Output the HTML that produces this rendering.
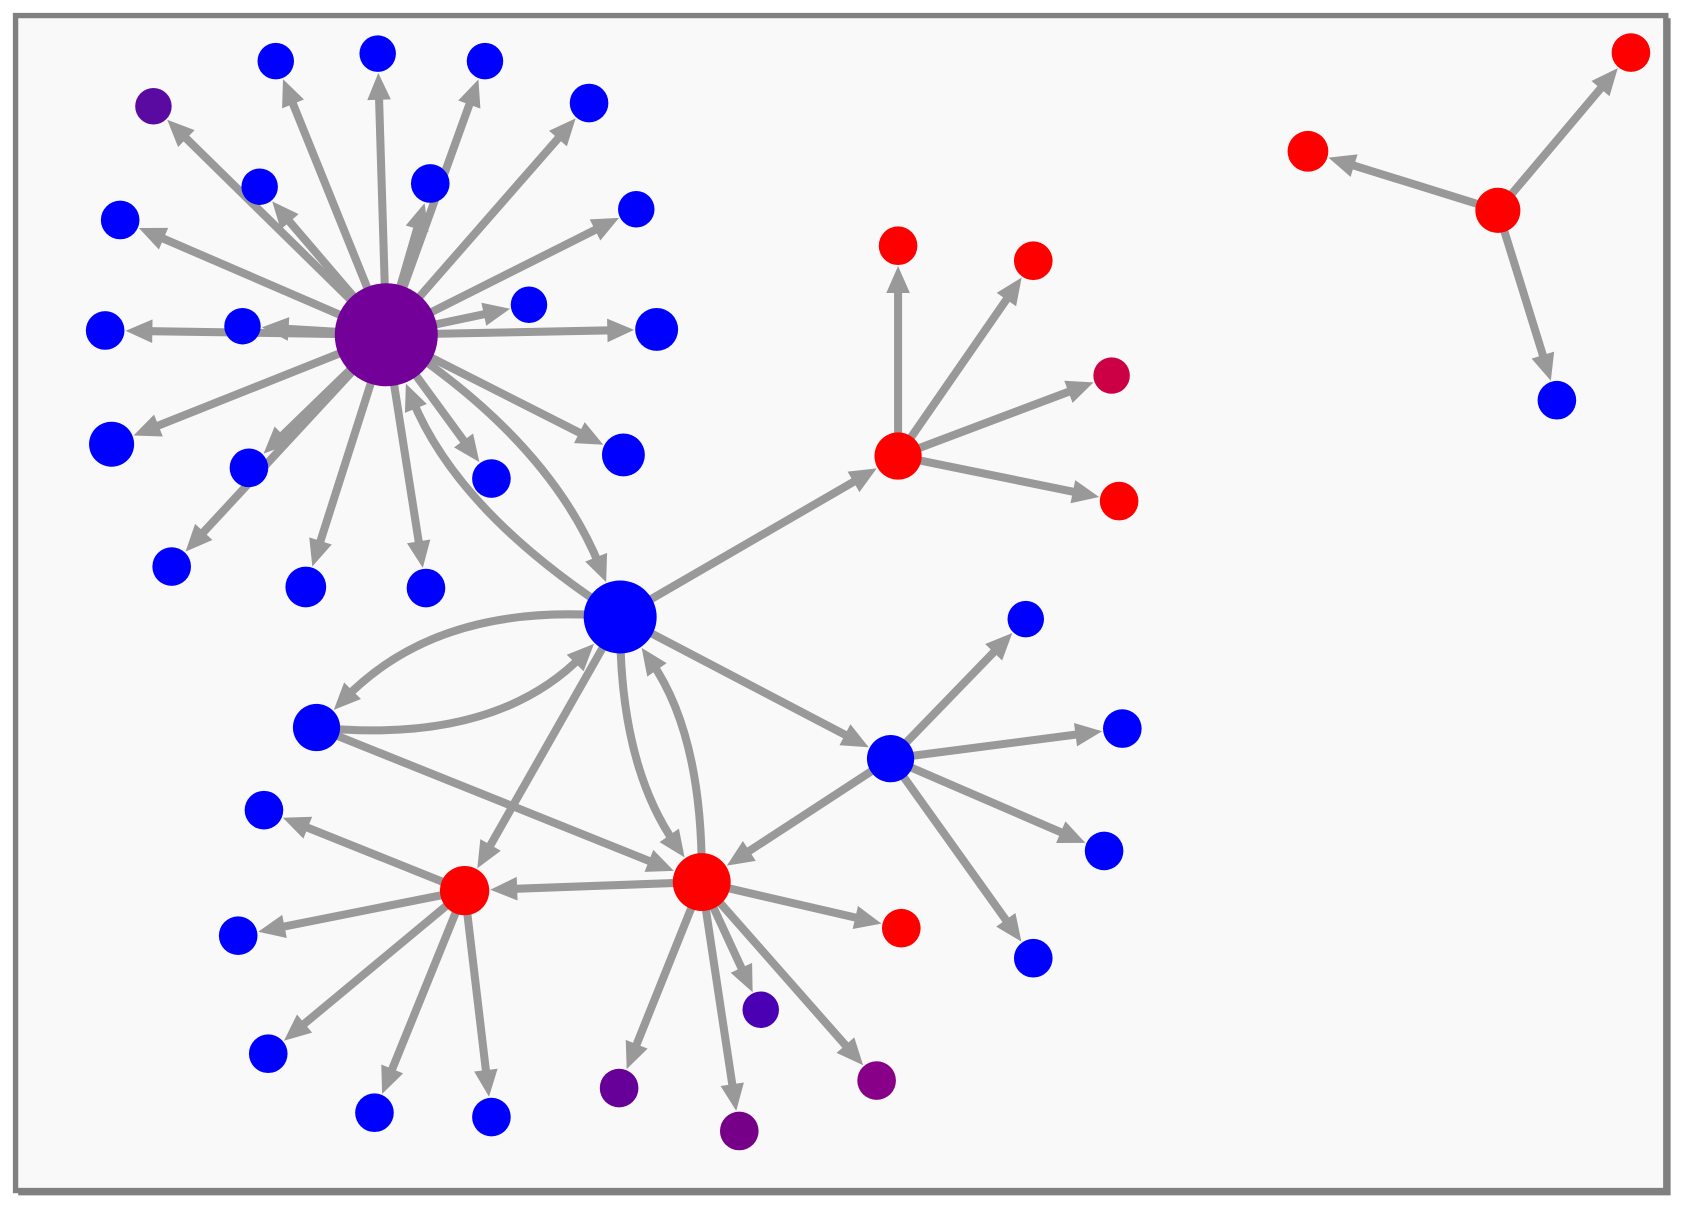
<!DOCTYPE html>
<html><head><meta charset="utf-8"><style>
html,body{margin:0;padding:0;background:#fff;width:1685px;height:1212px;overflow:hidden}
svg{display:block}
</style></head><body>
<svg id="s" width="1685" height="1212" viewBox="0 0 1570.4 1129.5" preserveAspectRatio="none" xmlns="http://www.w3.org/2000/svg">
<rect x="17" y="17" width="1540" height="1097" fill="#808080"/>
<rect x="14.5" y="14.5" width="1538" height="1095" fill="#f9f9f9" stroke="#808080" stroke-width="5"/>
<g id="e"></g><g id="n"></g>
</svg>
<script>
var N={
H:[360,312,48,'#730099'],M:[578,575,34,'#0000ff'],L:[295,678,22,'#0000ff'],
A:[433,830,23,'#ff0000'],B:[654,822,27,'#ff0000'],C:[830,707,22,'#0000ff'],D:[837,425,22,'#ff0000'],
T:[1396,196,21,'#ff0000'],T1:[1219,141,19,'#ff0000'],T2:[1520,49,18,'#ff0000'],T3:[1451,373,18,'#0000ff']
};
var hubKids=[[143,99,17,'#5a0aa0'],[257,57,17],[352,50,17],[452,57,17],[549,96,18],[593,195,17],[112,205,18],[242,174,17],[401,171,18],[98,308,18],[226,304,17],[493,284,17],[612,307,20],[104,414,21],[232,436,18],[458,446,18],[581,424,20],[160,528,18],[285,547,19],[397,548,18]];
var E=[];
hubKids.forEach(function(k,i){var id='h'+i;N[id]=[k[0],k[1],k[2],k[3]||'#0000ff'];E.push(['H',id,0]);});
[[837,229,18,'#ff0000'],[963,243,18,'#ff0000'],[1036,350,17,'#cc0044'],[1043,467,18,'#ff0000']].forEach(function(k,i){N['d'+i]=k;E.push(['D','d'+i,0]);});
[[956,577,17],[1046,679,18],[1029,793,18],[963,893,18]].forEach(function(k,i){N['c'+i]=[k[0],k[1],k[2],'#0000ff'];E.push(['C','c'+i,0]);});
[[246,755,18],[222,872,18],[250,982,18],[349,1037,18],[458,1041,18]].forEach(function(k,i){N['a'+i]=[k[0],k[1],k[2],'#0000ff'];E.push(['A','a'+i,0]);});
[[840,865,18,'#ff0000'],[709,941,17,'#4b00b4'],[577,1014,18,'#660099'],[689,1054,18,'#770088'],[817,1007,18,'#880088']].forEach(function(k,i){N['b'+i]=k;E.push(['B','b'+i,0]);});
E.push(['T','T1',0],['T','T2',0],['T','T3',0]);
E.push(['H','M',-0.16],['M','H',-0.16],['M','D',0],['M','L',0.24],['L','M',0.24],['M','C',0],['C','B',0],['L','B',0],['M','A',0],['M','B',0.16],['B','M',0.16],['B','A',0]);
var ns='http://www.w3.org/2000/svg',eg=document.getElementById('e'),ng=document.getElementById('n');
function el(t,a,p){var e=document.createElementNS(ns,t);for(var k in a)e.setAttribute(k,a[k]);p.appendChild(e);return e;}
var AL=25,AW=11,SW=7.5;
E.forEach(function(e){
 var s=N[e[0]],t=N[e[1]];
 var dx=t[0]-s[0],dy=t[1]-s[1];
 var cx=(s[0]+t[0])/2+(-dy)*e[2],cy=(s[1]+t[1])/2+dx*e[2];
 var ex=t[0]-cx,ey=t[1]-cy,el2=Math.hypot(ex,ey);ex/=el2;ey/=el2;
 var tipx=t[0]-ex*(t[2]+1),tipy=t[1]-ey*(t[2]+1);
 var bx=tipx-ex*AL,by=tipy-ey*AL;
 var lx=bx+ex*10,ly=by+ey*10;
 if(e[2]==0){el('line',{x1:s[0],y1:s[1],x2:lx,y2:ly,stroke:'#999',"stroke-width":SW},eg);}
 else{el('path',{d:'M'+s[0]+','+s[1]+' Q'+cx+','+cy+' '+lx+','+ly,fill:'none',stroke:'#999',"stroke-width":SW},eg);}
 var px=-ey,py=ex;
 el('polygon',{points:tipx+','+tipy+' '+(bx+px*AW)+','+(by+py*AW)+' '+(bx-px*AW)+','+(by-py*AW),fill:'#999'},eg);
});
for(var k in N){var v=N[k];el('circle',{cx:v[0],cy:v[1],r:v[2],fill:v[3]},ng);}
</script>
</body></html>
